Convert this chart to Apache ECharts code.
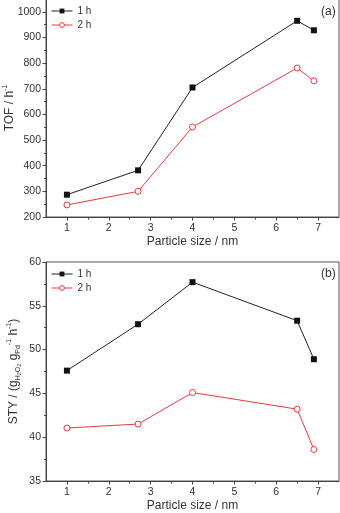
<!DOCTYPE html>
<html>
<head>
<meta charset="utf-8">
<script src="https://cdn.jsdelivr.net/npm/echarts@6/dist/echarts.min.js"></script>
<style>
  html, body { margin: 0; padding: 0; background: #fff; }
  #chart-container { width: 340px; height: 513px; }
</style>
</head>
<body>
<div id="chart-container"></div>
<script>
// particle size (nm) shared by both panels
const particleSize = [1, 2.7, 4, 6.5, 6.9];
// (a) TOF / h^-1
const tof1h = [287, 382, 705, 965, 928];
const tof2h = [247, 300, 551, 781, 731];
// (b) STY
const sty1h = [47.6, 52.9, 57.7, 53.3, 48.9];
const sty2h = [41.05, 41.5, 45.1, 43.2, 38.6];
// tick labels
const xTicks = [1, 2, 3, 4, 5, 6, 7];
const xMinorTicks = [1.5, 2.5, 3.5, 4.5, 5.5, 6.5];
const seriesNames = ['1 h', '2 h'];
const panelLabels = ['(a)', '(b)'];

const FONT = 'Liberation Sans, Arial, sans-serif';
const AXIS_COLOR = '#444';
const TEXT_COLOR = '#333';
const RED = '#e8383d';

function pairs(ys) {
    return particleSize.map((x, i) => [x, ys[i]]);
}

function xAxisMain(gridIndex) {
    return {
        gridIndex: gridIndex,
        type: 'value',
        min: 0.5,
        max: 7.5,
        name: 'Particle size / nm',
        nameLocation: 'middle',
        nameGap: 19,
        nameMoveOverlap: false,
        nameTextStyle: { fontFamily: FONT, fontSize: 12, color: TEXT_COLOR, verticalAlign: 'top' },
        axisLine: { show: true, lineStyle: { color: AXIS_COLOR, width: 1 } },
        axisTick: { show: true, inside: false, length: 3.5, customValues: xTicks, lineStyle: { color: AXIS_COLOR } },
        axisLabel: { customValues: xTicks, margin: 6, fontFamily: FONT, fontSize: 10.5, color: TEXT_COLOR },
        splitLine: { show: false }
    };
}

// second axis only for the short ticks between the integers
function xAxisMinor(gridIndex) {
    return {
        gridIndex: gridIndex,
        type: 'value',
        min: 0.5,
        max: 7.5,
        position: 'bottom',
        axisLine: { show: false },
        axisTick: { show: true, inside: false, length: 2.5, customValues: xMinorTicks, lineStyle: { color: AXIS_COLOR } },
        axisLabel: { show: false },
        splitLine: { show: false }
    };
}

function yAxis(gridIndex, min, max, interval, name, nameGap) {
    return {
        gridIndex: gridIndex,
        type: 'value',
        min: min,
        max: max,
        interval: interval,
        name: name,
        nameLocation: 'middle',
        nameRotate: 90,
        nameGap: nameGap,
        nameMoveOverlap: false,
        nameTextStyle: {
            fontFamily: FONT,
            color: TEXT_COLOR,
            rich: {
                m: { fontFamily: FONT, fontSize: 12, color: TEXT_COLOR, lineHeight: 16 },
                sup: { fontFamily: FONT, fontSize: 7, color: TEXT_COLOR, verticalAlign: 'top', lineHeight: 16 },
                sub: { fontFamily: FONT, fontSize: 7, color: TEXT_COLOR, verticalAlign: 'bottom', lineHeight: 16 },
                sub2: { fontFamily: FONT, fontSize: 5.5, color: TEXT_COLOR, verticalAlign: 'bottom', lineHeight: 14 }
            }
        },
        axisLine: { show: true, lineStyle: { color: AXIS_COLOR, width: 1 } },
        axisTick: { show: true, inside: false, length: 3.5, lineStyle: { color: AXIS_COLOR } },
        minorTick: { show: true, splitNumber: 2, length: 2, lineStyle: { color: AXIS_COLOR } },
        axisLabel: {
            margin: 5,
            showMaxLabel: min === 200 ? false : true,
            formatter: function (v) { return String(v); },
            fontFamily: FONT, fontSize: 10.5, color: TEXT_COLOR
        },
        splitLine: { show: false },
        minorSplitLine: { show: false }
    };
}

function blackSeries(xi, yi, data) {
    return {
        name: seriesNames[0],
        type: 'line',
        xAxisIndex: xi,
        yAxisIndex: yi,
        data: pairs(data),
        symbol: 'rect',
        symbolSize: 6,
        itemStyle: { color: '#111' },
        lineStyle: { color: '#222', width: 1 },
        emphasis: { disabled: true },
        z: 3
    };
}

function redSeries(xi, yi, data) {
    return {
        name: seriesNames[1],
        type: 'line',
        xAxisIndex: xi,
        yAxisIndex: yi,
        data: pairs(data),
        symbol: 'circle',
        symbolSize: 6,
        showAllSymbol: true,
        itemStyle: { color: '#fff', borderColor: RED, borderWidth: 1 },
        lineStyle: { color: RED, width: 1 },
        emphasis: { disabled: true },
        z: 3
    };
}

function legend(top) {
    return {
        data: seriesNames,
        orient: 'vertical',
        left: 51,
        top: top,
        itemWidth: 21,
        itemHeight: 6,
        itemGap: 4,
        padding: 0,
        itemStyle: { borderWidth: 1 },
        lineStyle: { width: 1 },
        textStyle: { fontFamily: FONT, fontSize: 10, color: TEXT_COLOR, lineHeight: 8 }
    };
}

var option = {
    animation: false,
    backgroundColor: '#fff',
    grid: [
        { left: 46, top: -1, width: 293, height: 218, outerBoundsMode: 'none', containLabel: false, show: true, borderColor: '#555', borderWidth: 1, backgroundColor: 'transparent' },
        { left: 46, top: 262, width: 293, height: 219, outerBoundsMode: 'none', containLabel: false, show: true, borderColor: '#555', borderWidth: 1, backgroundColor: 'transparent' }
    ],
    legend: [legend(6), legend(269)],
    xAxis: [xAxisMain(0), xAxisMinor(0), xAxisMain(1), xAxisMinor(1)],
    yAxis: [
        yAxis(0, 200, 1050, 100, '{m|TOF / h}{sup|-1}', 28),
        yAxis(1, 35, 60, 5, '{m|STY / (g}{sub|H}{sub2|2}{sub|O}{sub2|2}{m| g}{sub|Pd}{sup|-1}{m| h}{sup|-1}{m|)}', 24)
    ],
    graphic: [
        { type: 'text', left: 321, top: 6, style: { text: panelLabels[0], font: '12px ' + FONT, fill: TEXT_COLOR } },
        { type: 'text', left: 321, top: 268, style: { text: panelLabels[1], font: '12px ' + FONT, fill: TEXT_COLOR } }
    ],
    series: [
        blackSeries(0, 0, tof1h),
        redSeries(0, 0, tof2h),
        blackSeries(2, 1, sty1h),
        redSeries(2, 1, sty2h)
    ]
};

var myChart = echarts.init(document.getElementById('chart-container'));
myChart.setOption(option);
</script>
</body>
</html>
